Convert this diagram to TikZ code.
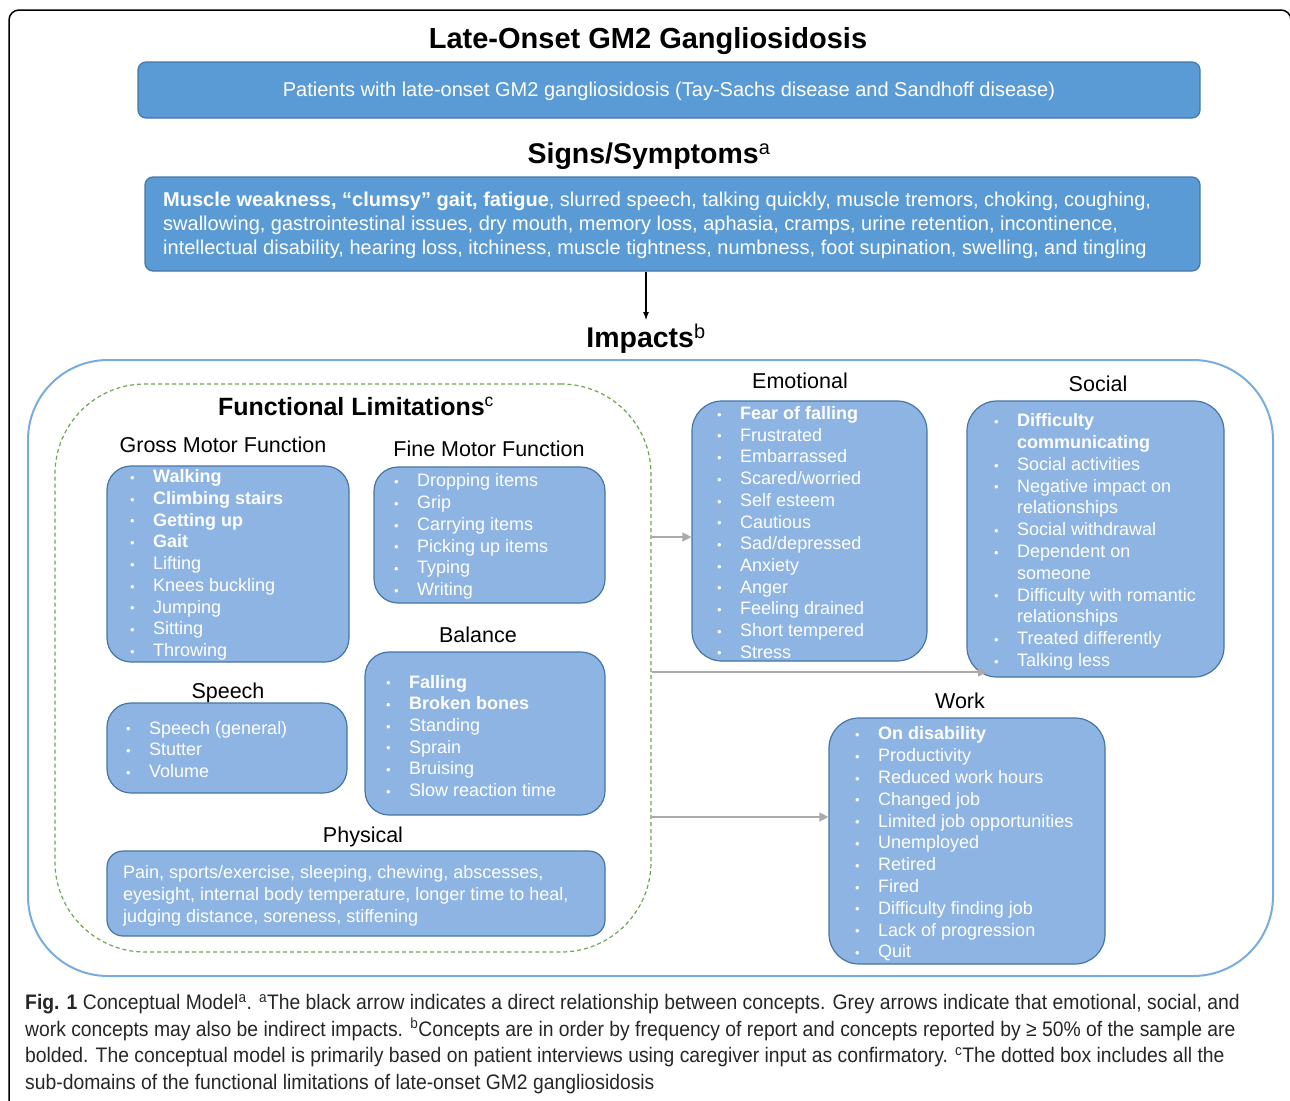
\documentclass[tikz,border=0pt]{standalone}
\usepackage{fontspec}
\setmainfont{Liberation Sans}
\newfontfamily\capfont[FakeStretch=0.92]{Liberation Sans}
\usepackage{tikz}
\usetikzlibrary{
    arrows.meta,
    positioning,
    calc
}
\definecolor{boxdark}{RGB}{91,155,213}
\definecolor{boxedge}{RGB}{70,118,165}
\definecolor{boxlight}{RGB}{141,180,226}
\definecolor{impactline}{RGB}{120,172,222}
\definecolor{dashgreen}{RGB}{112,165,80}
\definecolor{arrowgrey}{RGB}{170,170,170}
\tikzstyle{darkbox} = [draw=boxedge, fill=boxdark, rounded corners=8pt, line width=1.2pt, inner sep=0pt]
\tikzstyle{lightbox} = [draw=boxedge, fill=boxlight, rounded corners=24pt, line width=1.2pt, inner sep=0pt]
\tikzstyle{heading} = [font=\bfseries\fontsize{28.5}{32}\selectfont, inner sep=0pt]
\tikzstyle{sublabel} = [font=\fontsize{21.5}{25}\selectfont, inner sep=0pt]
\tikzstyle{itemlist} = [anchor=west, align=left, inner sep=0pt, text=white, font=\fontsize{18}{21.7}\selectfont]
\tikzstyle{greyarrow} = [draw=arrowgrey, line width=1.5pt, -{Triangle[length=9pt,width=9pt]}]
\newcommand{\itm}[1]{\makebox[23pt][l]{\raisebox{0.3pt}{\fontsize{13}{13}\selectfont\textbullet}}#1}
\newcommand{\supr}[1]{\textsuperscript{\mdseries #1}}

\begin{document}
\begin{tikzpicture}[x=1pt,y=-1pt]
\useasboundingbox (0,0) rectangle (1290,1100);
% outer frame
\draw[line width=1.5pt, rounded corners=10pt] (9,1120) -- (9,10) -- (1291,10) -- (1291,1120);
% top part
\node[font=\bfseries\fontsize{29}{32}\selectfont, inner sep=0pt] (title) at (648,41) {Late-Onset GM2 Gangliosidosis};
\node[darkbox, minimum width=1062pt, minimum height=56pt] (patients) at (669,90) {};
\node[text=white, font=\fontsize{20}{24}\selectfont, inner sep=0pt] (patientstxt) at (669,91) {Patients with late-onset GM2 gangliosidosis (Tay-Sachs disease and Sandhoff disease)};
\node[heading] (signs) at (649,156) {Signs/Symptoms\supr{a}};
\node[darkbox, minimum width=1055pt, minimum height=94pt] (symp) at (672.5,224) {};
\node[anchor=west, align=left, inner sep=0pt, text=white, font=\fontsize{20}{24}\selectfont] (symptxt) at (163,225) {\textbf{Muscle weakness, “clumsy” gait, fatigue}, slurred speech, talking quickly, muscle tremors, choking, coughing,\\
swallowing, gastrointestinal issues, dry mouth, memory loss, aphasia, cramps, urine retention, incontinence,\\
intellectual disability, hearing loss, itchiness, muscle tightness, numbness, foot supination, swelling, and tingling};
\node[heading] (impacts) at (646,339) {Impacts\supr{b}};
\draw[-{Latex[length=8pt,width=6pt]}, line width=1.2pt, shorten >=4pt] (symp.south -| impacts) -- (impacts.north);
% impacts frame
\node[draw=impactline, line width=2pt, rounded corners=80pt, minimum width=1245pt, minimum height=616pt, inner sep=0pt] (impframe) at (650.5,668) {};
\node[draw=dashgreen, line width=1.2pt, dash pattern=on 4pt off 3pt, rounded corners=90pt, minimum width=596pt, minimum height=568pt, inner sep=0pt] (funcbox) at (353,668) {};
\node[font=\bfseries\fontsize{25}{28}\selectfont, inner sep=0pt] (funclab) at (356,406) {Functional Limitations\supr{c}};

% gross motor
\node[sublabel] (grosslab) at (223,445) {Gross Motor Function};
\node[lightbox, minimum width=242pt, minimum height=196pt] (gross) at (228,564) {};
\node[itemlist] (grosslist) at (130,565) {\itm{\textbf{Walking}}\\ \itm{\textbf{Climbing stairs}}\\ \itm{\textbf{Getting up}}\\ \itm{\textbf{Gait}}\\ \itm{Lifting}\\ \itm{Knees buckling}\\ \itm{Jumping}\\ \itm{Sitting}\\ \itm{Throwing}};
% fine motor
\node[sublabel] (finelab) at (489,449) {Fine Motor Function};
\node[lightbox, minimum width=231pt, minimum height=136pt] (fine) at (489.5,535) {};
\node[itemlist] (finelist) at (394,536.5) {\itm{Dropping items}\\ \itm{Grip}\\ \itm{Carrying items}\\ \itm{Picking up items}\\ \itm{Typing}\\ \itm{Writing}};
% balance
\node[sublabel] (ballab) at (478,635) {Balance};
\node[lightbox, minimum width=240pt, minimum height=163pt] (balance) at (485,733.5) {};
\node[itemlist] (ballist) at (386,736) {\itm{\textbf{Falling}}\\ \itm{\textbf{Broken bones}}\\ \itm{Standing}\\ \itm{Sprain}\\ \itm{Bruising}\\ \itm{Slow reaction time}};
% speech
\node[sublabel] (speechlab) at (228,693) {Speech};
\node[lightbox, minimum width=240pt, minimum height=90pt] (speech) at (227,748) {};
\node[itemlist] (speechlist) at (126,749.5) {\itm{Speech (general)}\\ \itm{Stutter}\\ \itm{Volume}};
% physical
\node[sublabel] (physlab) at (363,837) {Physical};
\node[lightbox, rounded corners=16pt, minimum width=498pt, minimum height=85pt] (phys) at (356,893.5) {};
\node[itemlist] (physlist) at (123,896) {Pain, sports/exercise, sleeping, chewing, abscesses,\\ eyesight, internal body temperature, longer time to heal,\\ judging distance, soreness, stiffening};

% emotional
\node[sublabel] (emolab) at (800,381) {Emotional};
\node[lightbox, rounded corners=30pt, minimum width=235pt, minimum height=260pt] (emo) at (809.5,531) {};
\node[itemlist] (emolist) at (717,532.5) {\itm{\textbf{Fear of falling}}\\ \itm{Frustrated}\\ \itm{Embarrassed}\\ \itm{Scared/worried}\\ \itm{Self esteem}\\ \itm{Cautious}\\ \itm{Sad/depressed}\\ \itm{Anxiety}\\ \itm{Anger}\\ \itm{Feeling drained}\\ \itm{Short tempered}\\ \itm{Stress}};
% social
\node[sublabel] (soclab) at (1098,384) {Social};
\node[lightbox, rounded corners=30pt, minimum width=257pt, minimum height=276pt] (soc) at (1095.5,539) {};
\node[itemlist, font=\fontsize{18}{21.8}\selectfont] (soclist) at (994,542) {\itm{\textbf{Difficulty}}\\ \hspace*{23pt}\textbf{communicating}\\ \itm{Social activities}\\ \itm{Negative impact on}\\ \hspace*{23pt}relationships\\ \itm{Social withdrawal}\\ \itm{Dependent on}\\ \hspace*{23pt}someone\\ \itm{Difficulty with romantic}\\ \hspace*{23pt}relationships\\ \itm{Treated differently}\\ \itm{Talking less}};
% work
\node[sublabel] (worklab) at (960,701) {Work};
\node[lightbox, rounded corners=30pt, minimum width=276pt, minimum height=246pt] (work) at (967,841) {};
\node[itemlist, font=\fontsize{18}{21.8}\selectfont] (worklist) at (855,844) {\itm{\textbf{On disability}}\\ \itm{Productivity}\\ \itm{Reduced work hours}\\ \itm{Changed job}\\ \itm{Limited job opportunities}\\ \itm{Unemployed}\\ \itm{Retired}\\ \itm{Fired}\\ \itm{Difficulty finding job}\\ \itm{Lack of progression}\\ \itm{Quit}};

% grey arrows
\coordinate (emotip) at ([yshift=-6pt]emo.west);
\coordinate (soctip) at (987,672);
\coordinate (worktip) at ([yshift=24pt]work.west);
\draw[greyarrow] (funcbox.east |- emotip) -- (emotip);
\draw[greyarrow] (funcbox.east |- soctip) -- (soctip);
\draw[greyarrow] (funcbox.east |- worktip) -- (worktip);

% caption
\node[anchor=west, align=left, inner sep=0pt, text=black!85, font=\capfont\fontsize{21}{26.5}\selectfont] (caption) at (25,1044) {\textbf{Fig. 1} Conceptual Model\supr{a}. \supr{a}The black arrow indicates a direct relationship between concepts. Grey arrows indicate that emotional, social, and\\
work concepts may also be indirect impacts. \supr{b}Concepts are in order by frequency of report and concepts reported by ≥ 50\% of the sample are\\
bolded. The conceptual model is primarily based on patient interviews using caregiver input as confirmatory. \supr{c}The dotted box includes all the\\
sub-domains of the functional limitations of late-onset GM2 gangliosidosis};
\end{tikzpicture}
\end{document}
